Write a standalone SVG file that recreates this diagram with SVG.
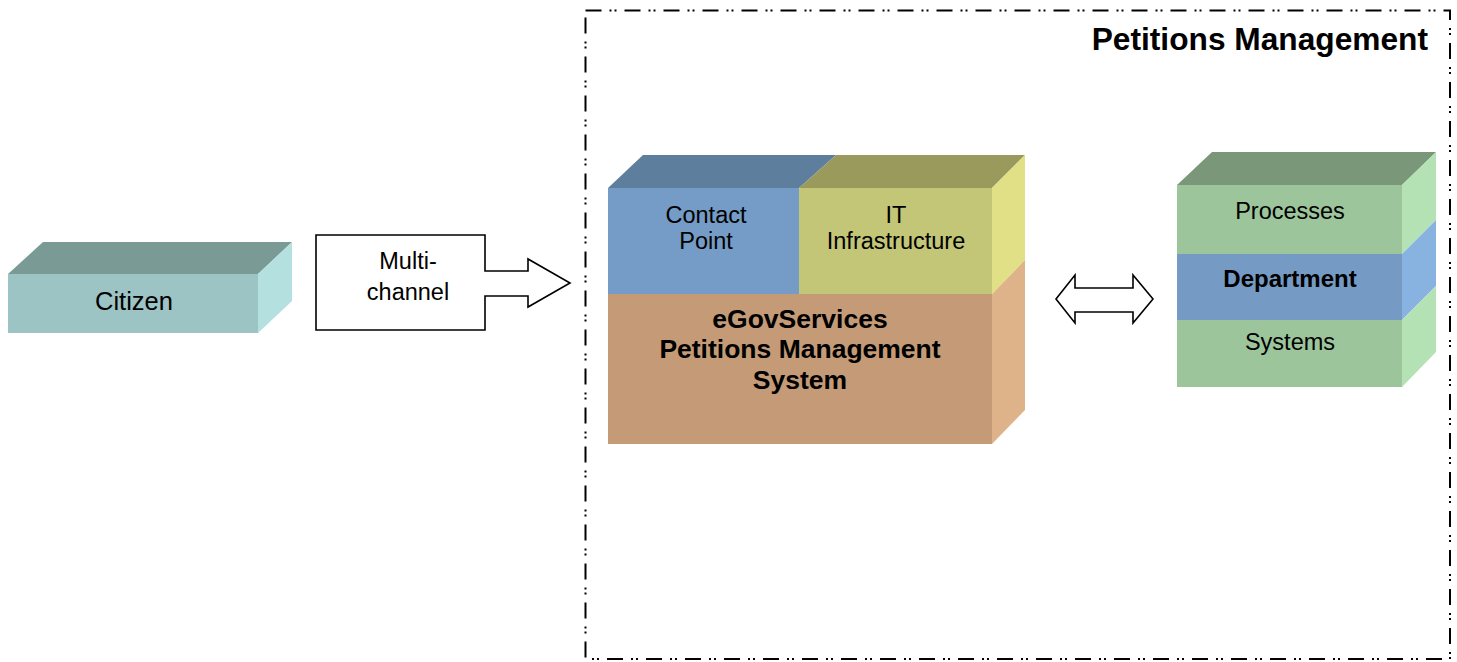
<svg xmlns="http://www.w3.org/2000/svg" width="1457" height="662" viewBox="0 0 1457 662">
<style>
text{font-family:"Liberation Sans",Arial,sans-serif;fill:#000;text-anchor:middle}
.r{font-size:23.5px}
.c{font-size:25.5px}
.b{font-size:26.5px;font-weight:bold}
.bd{font-size:24px;font-weight:bold}
.t{font-size:31.7px;font-weight:bold;text-anchor:end}
.ol{fill:#fff;stroke:#000;stroke-width:1.6;stroke-linejoin:miter}
</style>
<rect width="1457" height="662" fill="#fff"/>
<g id="frame">
<rect x="585.5" y="10.5" width="864.5" height="648.5" fill="none" stroke="#000" stroke-width="2" stroke-dasharray="16 8 2 3 2 8"/>
<text class="t" x="1428" y="50">Petitions Management</text>
</g>
<g id="citizen">
<polygon points="8,274 43,242 292,242 258,274" fill="#7A9A96"/>
<polygon points="258,274 292,242 292,301 258,333" fill="#B4E0DF"/>
<rect x="8" y="274" width="250" height="59" fill="#9CC4C4"/>
<text class="c" x="134" y="310">Citizen</text>
</g>
<g id="connectors">
<polygon class="ol" points="316,235 485,235 485,271 528,271 528,259 570,283 528,307 528,296 485,296 485,330 316,330"/>
<text class="r" x="408" y="269">Multi-</text>
<text class="r" x="408" y="300">channel</text>
<polygon class="ol" points="1056,299 1075,275 1075,288 1133,288 1133,275 1153,299 1133,323 1133,312 1075,312 1075,323"/>
</g>
<g id="egov">
<polygon points="608,188 643,155 836,155 799,188" fill="#5E7E9E"/>
<polygon points="799,188 836,155 1025,155 992,188" fill="#999A5B"/>
<polygon points="992,188 1025,155 1025,260 992,294" fill="#E1E087"/>
<polygon points="992,294 1025,260 1025,410 992,444" fill="#DFB389"/>
<rect x="608" y="188" width="191" height="106" fill="#759CC6"/>
<rect x="799" y="188" width="193" height="106" fill="#C3C577"/>
<rect x="608" y="294" width="384" height="150" fill="#C49B76"/>
<text class="r" x="706" y="223">Contact</text>
<text class="r" x="706" y="249">Point</text>
<text class="r" x="896" y="223">IT</text>
<text class="r" x="896" y="249">Infrastructure</text>
<text class="b" x="800" y="328">eGovServices</text>
<text class="b" x="800" y="358">Petitions Management</text>
<text class="b" x="800" y="389">System</text>
</g>
<g id="department">
<polygon points="1177,185 1212,152 1436,152 1402,185" fill="#7A977A"/>
<polygon points="1402,185 1436,152 1436,220 1402,254" fill="#B4E2B4"/>
<polygon points="1402,254 1436,220 1436,286 1402,320" fill="#88B2DF"/>
<polygon points="1402,320 1436,286 1436,352 1402,387" fill="#B4E2B4"/>
<rect x="1177" y="185" width="225" height="69" fill="#9CC59C"/>
<rect x="1177" y="254" width="225" height="66" fill="#759BC4"/>
<rect x="1177" y="320" width="225" height="67" fill="#9CC59C"/>
<text class="r" x="1290" y="219">Processes</text>
<text class="bd" x="1290" y="287">Department</text>
<text class="r" x="1290" y="350">Systems</text>
</g>
</svg>
